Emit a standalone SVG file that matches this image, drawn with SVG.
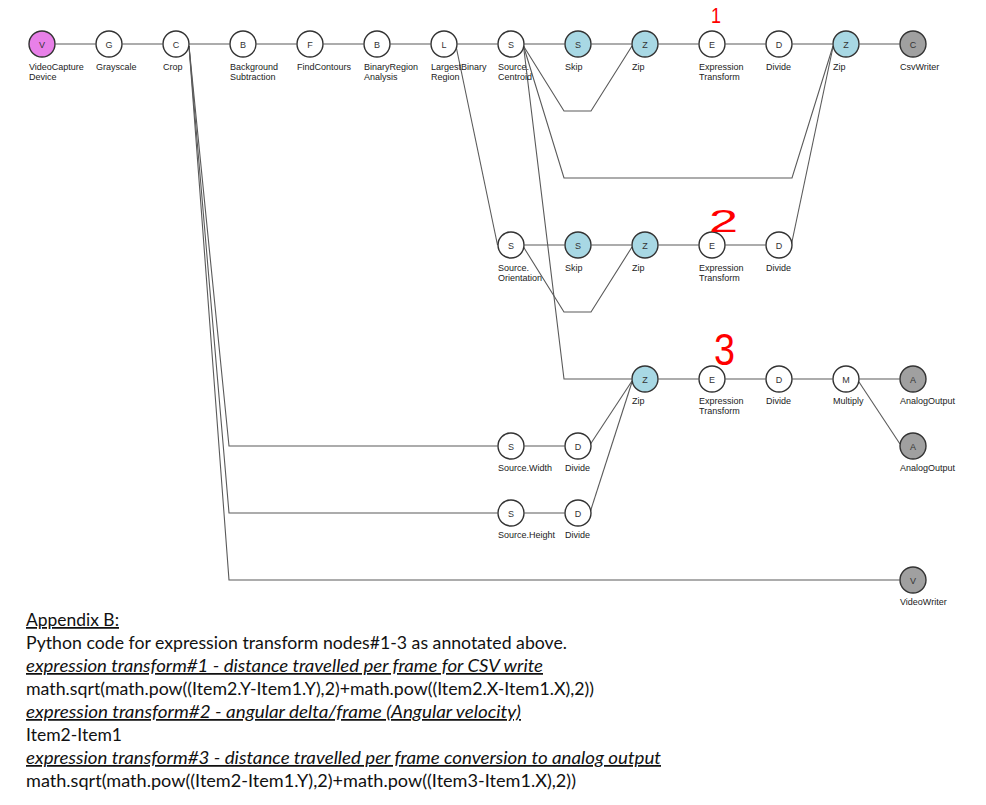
<svg xmlns="http://www.w3.org/2000/svg" width="986" height="805" viewBox="0 0 986 805">
<style>
.e{fill:none;stroke:#5a5a5a;stroke-width:1.1}
.n circle{stroke:#333;stroke-width:1.4}
.w{fill:#fff}.m{fill:#e880e8}.b{fill:#a8d8e4}.g{fill:#a0a0a0}
.n text.c{font-family:"Liberation Sans",Arial,sans-serif;font-size:9px;fill:#333;text-anchor:middle}
.n text.l{font-family:"Liberation Sans",Arial,sans-serif;font-size:9px;fill:#222}
.t{font-family:Lato,"Open Sans",sans-serif;font-size:17.5px;fill:#111}
.u{text-decoration:underline;font-style:italic}
.r{font-family:"Liberation Sans",Arial,sans-serif;fill:#f00}
</style>
<rect width="986" height="805" fill="#fff"/>
<g id="connectors">
<polyline class="e" points="55.5,44 95.5,44"/>
<polyline class="e" points="122.5,44 162.5,44"/>
<polyline class="e" points="189.5,44 229.5,44"/>
<polyline class="e" points="256.5,44 296.5,44"/>
<polyline class="e" points="323.5,44 363.5,44"/>
<polyline class="e" points="390.5,44 430.5,44"/>
<polyline class="e" points="457.5,44 497.5,44"/>
<polyline class="e" points="524.5,44 564.5,44"/>
<polyline class="e" points="591.5,44 631.5,44"/>
<polyline class="e" points="658.5,44 698.5,44"/>
<polyline class="e" points="725.5,44 765.5,44"/>
<polyline class="e" points="792.5,44 832.5,44"/>
<polyline class="e" points="859.5,44 899.5,44"/>
<polyline class="e" points="189,46 229,446 497.5,446"/>
<polyline class="e" points="189,46 229,513 497.5,513"/>
<polyline class="e" points="189,46 229,580 899.5,580"/>
<polyline class="e" points="456,46 497.5,245"/>
<polyline class="e" points="523.5,46 564,111 591,111 632,46"/>
<polyline class="e" points="523.5,46 564,178 792,178 833,46"/>
<polyline class="e" points="523.5,46 564,379 631.5,379"/>
<polyline class="e" points="791.5,244 833,47"/>
<polyline class="e" points="524.5,245 564.5,245"/>
<polyline class="e" points="591.5,245 631.5,245"/>
<polyline class="e" points="658.5,245 698.5,245"/>
<polyline class="e" points="725.5,245 765.5,245"/>
<polyline class="e" points="523.5,247 564,312 591,312 632,247"/>
<polyline class="e" points="658.5,379 698.5,379"/>
<polyline class="e" points="725.5,379 765.5,379"/>
<polyline class="e" points="792.5,379 832.5,379"/>
<polyline class="e" points="859.5,379 899.5,379"/>
<polyline class="e" points="859,382 900,444"/>
<polyline class="e" points="524.5,446 564.5,446"/>
<polyline class="e" points="524.5,513 564.5,513"/>
<polyline class="e" points="590.5,444 632,381"/>
<polyline class="e" points="590.5,511 632,382"/>
</g>
<g id="n1" class="n"><circle class="m" cx="42" cy="44" r="13"/><text class="c" x="42" y="47.5">V</text><text class="l" x="29" y="70">VideoCapture</text><text class="l" x="29" y="80">Device</text></g>
<g id="n2" class="n"><circle class="w" cx="109" cy="44" r="13"/><text class="c" x="109" y="47.5">G</text><text class="l" x="96" y="70">Grayscale</text></g>
<g id="n3" class="n"><circle class="w" cx="176" cy="44" r="13"/><text class="c" x="176" y="47.5">C</text><text class="l" x="163" y="70">Crop</text></g>
<g id="n4" class="n"><circle class="w" cx="243" cy="44" r="13"/><text class="c" x="243" y="47.5">B</text><text class="l" x="230" y="70">Background</text><text class="l" x="230" y="80">Subtraction</text></g>
<g id="n5" class="n"><circle class="w" cx="310" cy="44" r="13"/><text class="c" x="310" y="47.5">F</text><text class="l" x="297" y="70">FindContours</text></g>
<g id="n6" class="n"><circle class="w" cx="377" cy="44" r="13"/><text class="c" x="377" y="47.5">B</text><text class="l" x="364" y="70">BinaryRegion</text><text class="l" x="364" y="80">Analysis</text></g>
<g id="n7" class="n"><circle class="w" cx="444" cy="44" r="13"/><text class="c" x="444" y="47.5">L</text><text class="l" x="431" y="70">LargestBinary</text><text class="l" x="431" y="80">Region</text></g>
<g id="n8" class="n"><circle class="w" cx="511" cy="44" r="13"/><text class="c" x="511" y="47.5">S</text><text class="l" x="498" y="70">Source.</text><text class="l" x="498" y="80">Centroid</text></g>
<g id="n9" class="n"><circle class="b" cx="578" cy="44" r="13"/><text class="c" x="578" y="47.5">S</text><text class="l" x="565" y="70">Skip</text></g>
<g id="n10" class="n"><circle class="b" cx="645" cy="44" r="13"/><text class="c" x="645" y="47.5">Z</text><text class="l" x="632" y="70">Zip</text></g>
<g id="n11" class="n"><circle class="w" cx="712" cy="44" r="13"/><text class="c" x="712" y="47.5">E</text><text class="l" x="699" y="70">Expression</text><text class="l" x="699" y="80">Transform</text></g>
<g id="n12" class="n"><circle class="w" cx="779" cy="44" r="13"/><text class="c" x="779" y="47.5">D</text><text class="l" x="766" y="70">Divide</text></g>
<g id="n13" class="n"><circle class="b" cx="846" cy="44" r="13"/><text class="c" x="846" y="47.5">Z</text><text class="l" x="833" y="70">Zip</text></g>
<g id="n14" class="n"><circle class="g" cx="913" cy="44" r="13"/><text class="c" x="913" y="47.5">C</text><text class="l" x="900" y="70">CsvWriter</text></g>
<g id="n15" class="n"><circle class="w" cx="511" cy="245" r="13"/><text class="c" x="511" y="248.5">S</text><text class="l" x="498" y="271">Source.</text><text class="l" x="498" y="281">Orientation</text></g>
<g id="n16" class="n"><circle class="b" cx="578" cy="245" r="13"/><text class="c" x="578" y="248.5">S</text><text class="l" x="565" y="271">Skip</text></g>
<g id="n17" class="n"><circle class="b" cx="645" cy="245" r="13"/><text class="c" x="645" y="248.5">Z</text><text class="l" x="632" y="271">Zip</text></g>
<g id="n18" class="n"><circle class="w" cx="712" cy="245" r="13"/><text class="c" x="712" y="248.5">E</text><text class="l" x="699" y="271">Expression</text><text class="l" x="699" y="281">Transform</text></g>
<g id="n19" class="n"><circle class="w" cx="779" cy="245" r="13"/><text class="c" x="779" y="248.5">D</text><text class="l" x="766" y="271">Divide</text></g>
<g id="n20" class="n"><circle class="b" cx="645" cy="379" r="13"/><text class="c" x="645" y="382.5">Z</text><text class="l" x="632" y="404">Zip</text></g>
<g id="n21" class="n"><circle class="w" cx="712" cy="379" r="13"/><text class="c" x="712" y="382.5">E</text><text class="l" x="699" y="404">Expression</text><text class="l" x="699" y="414">Transform</text></g>
<g id="n22" class="n"><circle class="w" cx="779" cy="379" r="13"/><text class="c" x="779" y="382.5">D</text><text class="l" x="766" y="404">Divide</text></g>
<g id="n23" class="n"><circle class="w" cx="846" cy="379" r="13"/><text class="c" x="846" y="382.5">M</text><text class="l" x="833" y="404">Multiply</text></g>
<g id="n24" class="n"><circle class="g" cx="913" cy="379" r="13"/><text class="c" x="913" y="382.5">A</text><text class="l" x="900" y="404">AnalogOutput</text></g>
<g id="n25" class="n"><circle class="g" cx="913" cy="446" r="13"/><text class="c" x="913" y="449.5">A</text><text class="l" x="900" y="471">AnalogOutput</text></g>
<g id="n26" class="n"><circle class="w" cx="511" cy="446" r="13"/><text class="c" x="511" y="449.5">S</text><text class="l" x="498" y="471">Source.Width</text></g>
<g id="n27" class="n"><circle class="w" cx="578" cy="446" r="13"/><text class="c" x="578" y="449.5">D</text><text class="l" x="565" y="471">Divide</text></g>
<g id="n28" class="n"><circle class="w" cx="511" cy="513" r="13"/><text class="c" x="511" y="516.5">S</text><text class="l" x="498" y="538">Source.Height</text></g>
<g id="n29" class="n"><circle class="w" cx="578" cy="513" r="13"/><text class="c" x="578" y="516.5">D</text><text class="l" x="565" y="538">Divide</text></g>
<g id="n30" class="n"><circle class="g" cx="913" cy="580" r="13"/><text class="c" x="913" y="583.5">V</text><text class="l" x="900" y="605">VideoWriter</text></g>
<g id="annotations">
<text class="r" x="711" y="23" font-size="22" textLength="10" lengthAdjust="spacingAndGlyphs">1</text>
<text class="r" x="709" y="232" font-size="32" textLength="29" lengthAdjust="spacingAndGlyphs">2</text>
<text class="r" x="714" y="365" font-size="44" textLength="21" lengthAdjust="spacingAndGlyphs">3</text>
</g>
<g id="appendix">
<text class="t" x="26" y="626" text-decoration="underline" textLength="93" lengthAdjust="spacingAndGlyphs">Appendix B:</text>
<text class="t" x="26" y="649" textLength="541" lengthAdjust="spacingAndGlyphs">Python code for expression transform nodes#1-3 as annotated above.</text>
<text class="t u" x="26" y="672" textLength="517" lengthAdjust="spacingAndGlyphs">expression transform#1 - distance travelled per frame for CSV write</text>
<text class="t" x="26" y="695" textLength="568" lengthAdjust="spacingAndGlyphs">math.sqrt(math.pow((Item2.Y-Item1.Y),2)+math.pow((Item2.X-Item1.X),2))</text>
<text class="t u" x="26" y="718" textLength="495" lengthAdjust="spacingAndGlyphs">expression transform#2 - angular delta/frame (Angular velocity)</text>
<text class="t" x="26" y="741" textLength="96" lengthAdjust="spacingAndGlyphs">Item2-Item1</text>
<text class="t u" x="26" y="764" textLength="635" lengthAdjust="spacingAndGlyphs">expression transform#3 - distance travelled per frame conversion to analog output</text>
<text class="t" x="26" y="787" textLength="550" lengthAdjust="spacingAndGlyphs">math.sqrt(math.pow((Item2-Item1.Y),2)+math.pow((Item3-Item1.X),2))</text>
</g>
</svg>
